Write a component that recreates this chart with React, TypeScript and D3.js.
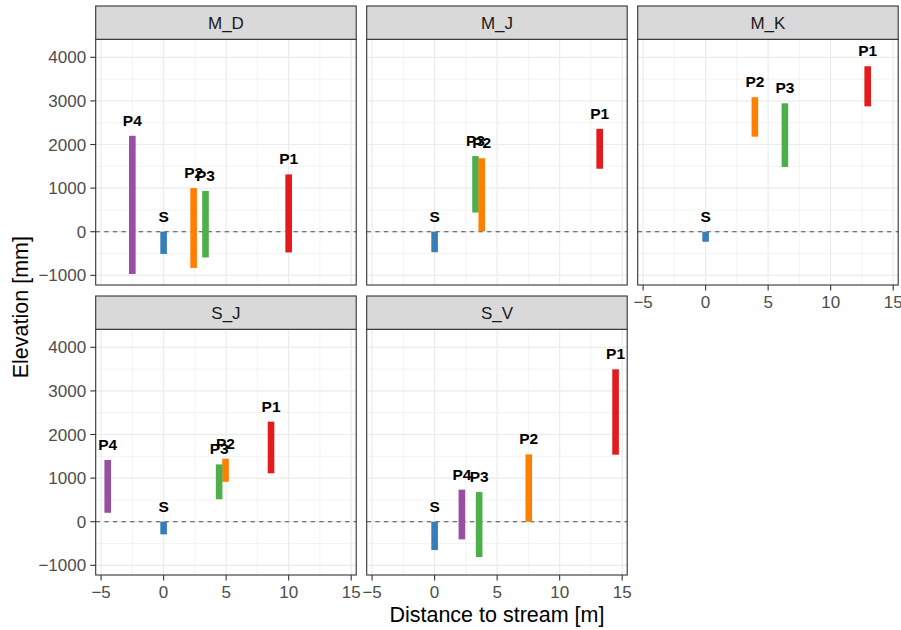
import React from "react";
import * as d3 from "d3";

const sites = ["M_D", "M_J", "M_K", "S_J", "S_V"];
const rowSite = ["M_D", "M_D", "M_D", "M_D", "M_D",
  "M_J", "M_J", "M_J", "M_J",
  "M_K", "M_K", "M_K", "M_K",
  "S_J", "S_J", "S_J", "S_J", "S_J",
  "S_V", "S_V", "S_V", "S_V", "S_V"];
const rowName = ["P4", "S", "P2", "P3", "P1",
  "S", "P3", "P2", "P1",
  "S", "P2", "P3", "P1",
  "P4", "S", "P2", "P3", "P1",
  "S", "P4", "P3", "P2", "P1"];
const rowDistance = [-2.5, 0, 2.4, 3.35, 10.0,
  0, 3.27, 3.77, 13.2,
  0, 3.94, 6.34, 12.96,
  -4.47, 0, 4.95, 4.44, 8.59,
  0, 2.18, 3.56, 7.53, 14.47];
const rowMin = [-970, -510, -830, -590, -475,
  -470, 440, 10, 1445,
  -230, 2180, 1485, 2875,
  205, -290, 915, 515, 1110,
  -650, -405, -810, 0, 1537];
const rowMax = [2200, 0, 1000, 935, 1315,
  0, 1735, 1685, 2360,
  0, 3085, 2945, 3795,
  1415, 0, 1445, 1315, 2295,
  0, 735, 680, 1545, 3495];

const nameColors: Record<string, string> = {
  P1: "#E41A1C", P2: "#FF7F00", P3: "#4DAF4A", P4: "#984EA3", S: "#377EB8",
};

const xTicks = [-5, 0, 5, 10, 15];
const xMinor = [-2.5, 2.5, 7.5, 12.5];
const yTicks = [-1000, 0, 1000, 2000, 3000, 4000];
const yMinor = [-500, 500, 1500, 2500, 3500];
const xDomain = [-5.43, 15.4];
const yDomain = [-1222, 4413];

const W = 901, H = 630;
const colLeft = [95.7, 366.7, 637.7];
const panelW = 260.5;
const stripTop = [6, 296];
const stripH = 33.3;
const panelH = 245.7;
const tickFont = 17;
const font = "'Liberation Sans', Arial, Helvetica, sans-serif";

function fmt(v: number) {
  return v < 0 ? "\u2212" + Math.abs(v) : String(v);
}

export default function App() {
  const panels = sites.map((s, i) => {
    const col = i % 3;
    const row = Math.floor(i / 3);
    const left = colLeft[col];
    const top = stripTop[row] + stripH;
    const bottom = top + panelH;
    const x = d3.scaleLinear().domain(xDomain).range([left, left + panelW]);
    const y = d3.scaleLinear().domain(yDomain).range([bottom, top]);
    const showX = row === 1 || col === 2;
    const showY = col === 0;
    const idx = rowSite.map((r, k) => (r === s ? k : -1)).filter((k) => k >= 0);
    return (
      <g key={s}>
        <rect x={left} y={top} width={panelW} height={panelH} fill="#FFFFFF" />
        {yMinor.map((v) => (
          <line key={"ym" + v} x1={left} x2={left + panelW} y1={y(v)} y2={y(v)} stroke="#EBEBEB" strokeWidth={0.6} />
        ))}
        {xMinor.map((v) => (
          <line key={"xm" + v} x1={x(v)} x2={x(v)} y1={top} y2={bottom} stroke="#EBEBEB" strokeWidth={0.6} />
        ))}
        {yTicks.map((v) => (
          <line key={"yM" + v} x1={left} x2={left + panelW} y1={y(v)} y2={y(v)} stroke="#EBEBEB" strokeWidth={1.2} />
        ))}
        {xTicks.map((v) => (
          <line key={"xM" + v} x1={x(v)} x2={x(v)} y1={top} y2={bottom} stroke="#EBEBEB" strokeWidth={1.2} />
        ))}
        <line x1={left} x2={left + panelW} y1={y(0)} y2={y(0)} stroke="#4D4D4D" strokeWidth={1.1} strokeDasharray="4.3,4.3" />
        {idx.map((k) => (
          <rect key={"b" + k}
            x={x(rowDistance[k]) - 3.3}
            y={y(rowMax[k])}
            width={6.6}
            height={y(rowMin[k]) - y(rowMax[k])}
            fill={nameColors[rowName[k]]} />
        ))}
        {idx.map((k) => (
          <text key={"t" + k} x={x(rowDistance[k])} y={y(rowMax[k]) - 10}
            textAnchor="middle" fontFamily={font} fontWeight="bold" fontSize={15.5} fill="#000000">
            {rowName[k]}
          </text>
        ))}
        <rect x={left} y={top} width={panelW} height={panelH} fill="none" stroke="#333333" strokeWidth={1.1} />
        <rect x={left} y={stripTop[row]} width={panelW} height={stripH} fill="#D9D9D9" stroke="#333333" strokeWidth={1.1} />
        <text x={left + panelW / 2} y={stripTop[row] + stripH / 2 + 6.1} textAnchor="middle"
          fontFamily={font} fontSize={tickFont} fill="#1A1A1A">{s}</text>
        {showY && yTicks.map((v) => (
          <g key={"yt" + v}>
            <line x1={left - 5.4} x2={left} y1={y(v)} y2={y(v)} stroke="#333333" strokeWidth={1.1} />
            <text x={left - 9.5} y={y(v) + 6.1} textAnchor="end" fontFamily={font} fontSize={tickFont} fill="#4D4D4D">{fmt(v)}</text>
          </g>
        ))}
        {showX && xTicks.map((v) => (
          <g key={"xt" + v}>
            <line x1={x(v)} x2={x(v)} y1={bottom} y2={bottom + 5.4} stroke="#333333" strokeWidth={1.1} />
            <text x={x(v)} y={bottom + 23.4} textAnchor="middle" fontFamily={font} fontSize={tickFont} fill="#4D4D4D">{fmt(v)}</text>
          </g>
        ))}
      </g>
    );
  });

  return (
    <svg width={W} height={H} style={{ position: "absolute", left: 0, top: 0 }}>
      <rect width={W} height={H} fill="#FFFFFF" />
      {panels}
      <text x={(colLeft[0] + colLeft[2] + panelW) / 2} y={622} textAnchor="middle"
        fontFamily={font} fontSize={21.5} fill="#000000">Distance to stream [m]</text>
      <text transform={`translate(27.5, ${(stripTop[0] + stripH + stripTop[1] + stripH + panelH) / 2}) rotate(-90)`}
        textAnchor="middle" fontFamily={font} fontSize={21.5} fill="#000000">Elevation [mm]</text>
    </svg>
  );
}
